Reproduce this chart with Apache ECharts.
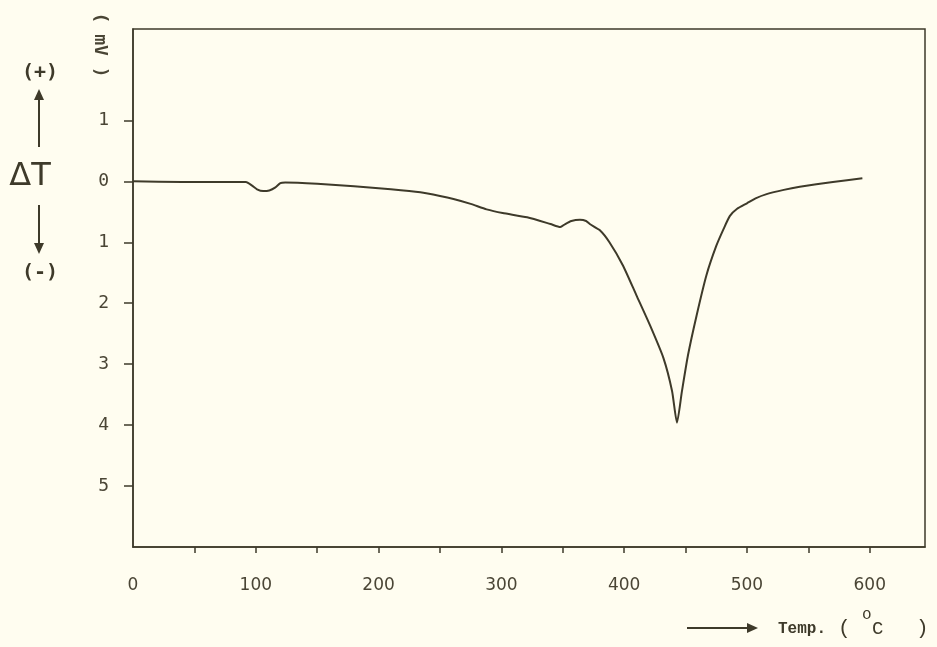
<!DOCTYPE html>
<html>
<head>
<meta charset="utf-8">
<script src="https://cdn.jsdelivr.net/npm/echarts@6/dist/echarts.min.js"></script>
<style>
  html, body { margin: 0; padding: 0; background: #fffdf0; }
  #chart { width: 937px; height: 647px; }
</style>
</head>
<body>
<div id="chart"></div>
<script>
// DTA trace: temperature (°C) against ΔT (mV), endotherms drawn downward
const temps = [0, 40, 80, 92, 97, 101, 106, 111, 116, 120, 124, 150, 180, 210, 234, 250, 261, 275, 288, 301, 321, 340, 348, 352, 357, 364, 369, 372, 380, 388, 399, 410, 421, 432, 439, 443, 447, 452, 459, 467, 475, 481, 486, 492, 500, 507, 516, 530, 543, 570, 594];
const deltaT = [0, -0.01, -0.01, -0.01, -0.07, -0.13, -0.16, -0.15, -0.10, -0.03, -0.02, -0.04, -0.08, -0.13, -0.18, -0.24, -0.29, -0.37, -0.46, -0.52, -0.59, -0.70, -0.75, -0.70, -0.65, -0.63, -0.65, -0.70, -0.80, -1.0, -1.38, -1.87, -2.36, -2.90, -3.44, -3.96, -3.45, -2.85, -2.20, -1.54, -1.06, -0.78, -0.57, -0.45, -0.36, -0.28, -0.21, -0.14, -0.09, -0.01, 0.05];

const xTickValues = [50, 100, 150, 200, 250, 300, 350, 400, 450, 500, 550, 600];
const xLabelValues = [0, 100, 200, 300, 400, 500, 600];
const yTickValues = [-5, -4, -3, -2, -1, 0, 1];

const ink = '#3e3a2a';
const paper = '#fffdf0';

const chart = echarts.init(document.getElementById('chart'));
chart.setOption({
  backgroundColor: paper,
  animation: false,
  grid: {
    left: 133, top: 29, right: 12, bottom: 100,
    show: true, borderColor: ink, borderWidth: 1.5, backgroundColor: 'transparent'
  },
  xAxis: {
    type: 'value', min: 0, max: 645,
    axisLine: { show: true, onZero: false, lineStyle: { color: ink, width: 1.5 } },
    axisTick: { show: true, length: 6, lineStyle: { color: ink, width: 1.5 }, customValues: xTickValues },
    axisLabel: {
      customValues: xLabelValues, margin: 30,
      color: '#4a4535', fontFamily: 'DejaVu Sans', fontSize: 17
    },
    splitLine: { show: false }
  },
  yAxis: {
    type: 'value', min: -6, max: 2.5,
    axisLine: { show: true, onZero: false, lineStyle: { color: ink, width: 1.5 } },
    axisTick: { show: true, length: 9, lineStyle: { color: ink, width: 1.5 }, customValues: yTickValues },
    axisLabel: {
      customValues: yTickValues, margin: 24,
      color: '#4a4535', fontFamily: 'DejaVu Sans Mono', fontSize: 18,
      formatter: v => String(Math.abs(v))
    },
    splitLine: { show: false }
  },
  series: [{
    type: 'line',
    data: temps.map((t, i) => [t, deltaT[i]]),
    smooth: 0.2,
    symbol: 'none',
    lineStyle: { color: ink, width: 2 }
  }],
  graphic: [
    // y-axis unit, rotated
    { type: 'text', x: 100, y: 45, rotation: -Math.PI / 2,
      style: { text: '( mV )', fill: '#4a4535', font: 'bold 18px "DejaVu Sans Mono"', align: 'center', verticalAlign: 'middle' } },
    // (+) arrow ΔT arrow (-)
    { type: 'text', x: 40, y: 73,
      style: { text: '(+)', fill: '#3e3a2a', font: 'bold 20px "DejaVu Sans Mono"', align: 'center', verticalAlign: 'middle' } },
    { type: 'line', shape: { x1: 39, y1: 147, x2: 39, y2: 96 }, style: { stroke: ink, lineWidth: 2 } },
    { type: 'polygon', shape: { points: [[39, 89], [34, 100], [44, 100]] }, style: { fill: ink } },
    { type: 'text', x: 30, y: 177,
      style: { text: 'ΔT', fill: '#3e3a2a', font: '32px "DejaVu Sans"', align: 'center', verticalAlign: 'middle' } },
    { type: 'line', shape: { x1: 39, y1: 205, x2: 39, y2: 246 }, style: { stroke: ink, lineWidth: 2 } },
    { type: 'polygon', shape: { points: [[39, 254], [34, 243], [44, 243]] }, style: { fill: ink } },
    { type: 'text', x: 40, y: 273,
      style: { text: '(-)', fill: '#3e3a2a', font: 'bold 20px "DejaVu Sans Mono"', align: 'center', verticalAlign: 'middle' } },
    // x-axis name with arrow
    { type: 'line', shape: { x1: 687, y1: 628, x2: 750, y2: 628 }, style: { stroke: ink, lineWidth: 2 } },
    { type: 'polygon', shape: { points: [[758, 628], [747, 623], [747, 633]] }, style: { fill: ink } },
    { type: 'text', x: 778, y: 629,
      style: { text: 'Temp.', fill: '#3e3a2a', font: 'bold 16px "Liberation Mono"', align: 'left', verticalAlign: 'middle' } },
    { type: 'text', x: 838, y: 628,
      style: { text: '(', fill: '#3e3a2a', font: '21px "Liberation Mono"', align: 'left', verticalAlign: 'middle' } },
    { type: 'text', x: 862, y: 615,
      style: { text: 'o', fill: '#3e3a2a', font: '16px "Liberation Mono"', align: 'left', verticalAlign: 'middle' } },
    { type: 'text', x: 872, y: 629,
      style: { text: 'C', fill: '#3e3a2a', font: '19px "Liberation Mono"', align: 'left', verticalAlign: 'middle' } },
    { type: 'text', x: 916, y: 628,
      style: { text: ')', fill: '#3e3a2a', font: '21px "Liberation Mono"', align: 'left', verticalAlign: 'middle' } }
  ]
});
</script>
</body>
</html>
